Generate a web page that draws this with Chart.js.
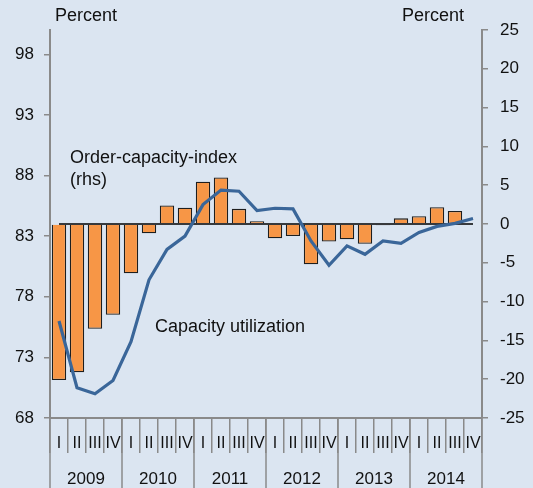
<!DOCTYPE html>
<html>
<head>
<meta charset="utf-8">
<script src="https://cdn.jsdelivr.net/npm/chart.js@4.4.1/dist/chart.umd.min.js"></script>
<style>
  html, body { margin: 0; padding: 0; background: #dbe5f1; }
  #chart { display: block; }
</style>
</head>
<body>
<canvas id="chart" width="533" height="488"></canvas>
<script>
// quarters 2009 I .. 2014 IV
const years = ['2009', '2010', '2011', '2012', '2013', '2014'];
const quarterNames = ['I', 'II', 'III', 'IV'];
const categories = years.flatMap(y => quarterNames.map(q => q + ' ' + y));

// capacity utilization, percent (lhs)
const capacityUtil = [76.0, 70.5, 70.0, 71.1, 74.3, 79.4, 81.9, 83.0,
                      85.6, 86.8, 86.7, 85.1, 85.3, 85.25, 82.6, 80.6,
                      82.2, 81.5, 82.6, 82.4, 83.3, 83.8, 84.05, 84.45];

// order-capacity-index, percent (rhs)
const orderCapacity = [-20.1, -19.1, -13.5, -11.7, -6.35, -1.2, 2.4, 2.1,
                       5.45, 6.0, 1.95, 0.37, -1.85, -1.55, -5.2, -2.25,
                       -1.98, -2.55, -0.15, 0.73, 1.0, 2.17, 1.68, null];

const leftTicks = [68, 73, 78, 83, 88, 93, 98];
const rightTicks = [-25, -20, -15, -10, -5, 0, 5, 10, 15, 20, 25];

const FONT = '"Liberation Sans", Arial, sans-serif';
const AXIS = '#8a8a8a';

const decor = {
  id: 'decor',
  beforeDraw(chart) {
    const c = chart.ctx;
    c.save();
    c.fillStyle = '#dbe5f1';
    c.fillRect(0, 0, chart.width, chart.height);
    c.restore();
  },
  afterDatasetDraw(chart, args) {
    // zero line on top of the bars
    if (args.index !== 0) return;
    const c = chart.ctx, x = chart.scales.x, yr = chart.scales.yR;
    const y0 = yr.getPixelForValue(0);
    c.save();
    c.strokeStyle = '#000';
    c.lineWidth = 1.6;
    c.beginPath();
    c.moveTo(x.getPixelForValue(0), y0);
    c.lineTo(x.getPixelForValue(categories.length - 1), y0);
    c.stroke();
    c.restore();
  },
  afterDraw(chart) {
    const c = chart.ctx, x = chart.scales.x, area = chart.chartArea;
    const half = (x.getPixelForValue(1) - x.getPixelForValue(0)) / 2;
    c.save();
    // year separators
    c.strokeStyle = AXIS;
    c.lineWidth = 1.5;
    for (let i = 0; i <= years.length; i++) {
      const px = i < years.length ? x.getPixelForValue(i * 4) - half
                                  : x.getPixelForValue(categories.length - 1) + half;
      c.beginPath();
      c.moveTo(px, area.bottom);
      c.lineTo(px, chart.height);
      c.stroke();
    }
    c.fillStyle = '#111';
    c.textAlign = 'center';
    c.textBaseline = 'middle';
    c.font = '16px ' + FONT;
    categories.forEach((cat, i) => {
      c.fillText(quarterNames[i % 4], x.getPixelForValue(i), area.bottom + 26);
    });
    c.font = '17px ' + FONT;
    years.forEach((y, i) => {
      const mid = (x.getPixelForValue(i * 4) + x.getPixelForValue(i * 4 + 3)) / 2;
      c.fillText(y, mid, area.bottom + 61);
    });
    // annotations
    c.font = '18px ' + FONT;
    c.textAlign = 'left';
    c.fillText('Percent', 55, 16);
    c.fillText('Order-capacity-index', 70, 158);
    c.fillText('(rhs)', 70, 180);
    c.fillText('Capacity utilization', 155, 327);
    c.textAlign = 'right';
    c.fillText('Percent', 464, 16);
    c.restore();
  }
};

new Chart(document.getElementById('chart'), {
  data: {
    labels: categories,
    datasets: [
      {
        type: 'bar',
        label: 'Order-capacity-index',
        data: orderCapacity,
        yAxisID: 'yR',
        backgroundColor: '#f79646',
        borderColor: '#1e1e1e',
        borderWidth: 1.3,
        barPercentage: 0.8,
        categoryPercentage: 1.0,
        order: 2
      },
      {
        type: 'line',
        label: 'Capacity utilization',
        data: capacityUtil,
        yAxisID: 'yL',
        borderColor: '#3a6699',
        borderWidth: 3.2,
        pointRadius: 0,
        tension: 0,
        order: 0
      }
    ]
  },
  options: {
    responsive: false,
    animation: false,
    layout: { padding: { top: 30, left: 0, right: 0, bottom: 0 } },
    plugins: { legend: { display: false }, tooltip: { enabled: false } },
    scales: {
      x: {
        type: 'category',
        offset: true,
        grid: { offset: true, drawOnChartArea: false, tickLength: 35, color: AXIS, lineWidth: 1.5 },
        border: { color: AXIS, width: 2 },
        ticks: { display: false },
        afterFit(s) { s.height = 70; }
      },
      yL: {
        position: 'left',
        min: 68,
        max: 100,
        afterBuildTicks(s) { s.ticks = leftTicks.map(v => ({ value: v })); },
        grid: { drawOnChartArea: false, tickLength: 6, color: AXIS, lineWidth: 1.5 },
        border: { color: AXIS, width: 2 },
        ticks: { color: '#111', font: { size: 17, family: FONT }, padding: 10 },
        afterFit(s) { s.width = 50; }
      },
      yR: {
        position: 'right',
        min: -25,
        max: 25,
        afterBuildTicks(s) { s.ticks = rightTicks.map(v => ({ value: v })); },
        grid: { drawOnChartArea: false, tickLength: 6, color: AXIS, lineWidth: 1.5 },
        border: { color: AXIS, width: 2 },
        ticks: { color: '#111', font: { size: 17, family: FONT }, padding: 12 },
        afterFit(s) { s.width = 51; }
      }
    }
  },
  plugins: [decor]
});
</script>
</body>
</html>
